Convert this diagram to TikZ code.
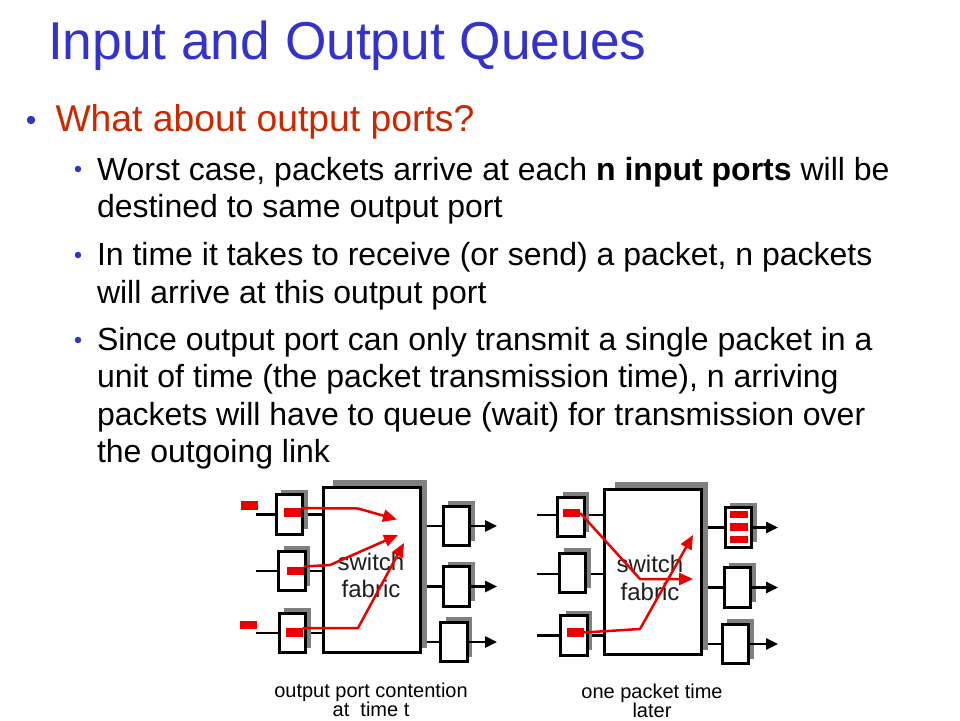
\documentclass[tikz,border=0pt]{standalone}
\usepackage{fontspec}
\setmainfont{Liberation Sans}
\usetikzlibrary{arrows.meta,shadows}
\definecolor{titleblue}{RGB}{51,51,204}
\definecolor{headred}{RGB}{204,40,0}
\definecolor{pktred}{RGB}{235,0,0}
\definecolor{shadowgray}{RGB}{128,128,128}
\definecolor{labelgray}{RGB}{30,30,30}
\begin{document}
\begin{tikzpicture}[x=1pt,y=-1pt,
  txt/.style={anchor=base west, inner sep=0, outer sep=0},
  ttl/.style={txt, text=titleblue, font=\fontsize{53.3}{64}\selectfont},
  lvlone/.style={txt, text=headred, font=\fontsize{37.3}{45}\selectfont},
  lvltwo/.style={txt, text=black, font=\fontsize{32}{38}\selectfont},
  dotone/.style={circle, fill=titleblue, inner sep=0, minimum size=8.5pt},
  dottwo/.style={circle, fill=titleblue, inner sep=0, minimum size=6.5pt},
  port/.style={draw, line width=3pt, fill=white, minimum width=26.5pt, minimum height=39.5pt, inner sep=0,
    drop shadow={shadow xshift=5pt, shadow yshift=5pt, opacity=1, fill=shadowgray, draw=none}},
  fabric/.style={draw, line width=3pt, fill=white, minimum width=97pt, minimum height=165pt, inner sep=0},
  fshadow/.style={fill=shadowgray, draw=none, inner sep=0, minimum height=168pt},
  pkt/.style={fill=pktred, draw=none, inner sep=0, minimum width=17pt, minimum height=8.5pt},
  qpkt/.style={fill=pktred, draw=none, inner sep=0, minimum width=18pt, minimum height=7.5pt},
  wire/.style={line width=2.5pt},
  redarr/.style={draw=pktred, line width=2.5pt, line join=round, -{Triangle[length=14pt,width=12pt]}},
  outarr/.style={line width=2.5pt, -{Triangle[length=12pt,width=11pt]}},
  flabel/.style={anchor=base, inner sep=0, text=labelgray, font=\fontsize{24}{28}\selectfont},
  capt/.style={anchor=base, inner sep=0, font=\fontsize{20}{22}\selectfont}
]
\useasboundingbox[fill=white] (0,0) rectangle (960,720);

% ---------- text ----------
\node[ttl] (title) at (48,59.3) {Input and Output Queues};
\node[dotone] (b1) at (31,120) {};
\node[lvlone] (h1) at (55.5,131.7) {What about output ports?};
\node[dottwo] (b2) at (78,169) {};
\node[lvltwo] (t1) at (97,180) {Worst case, packets arrive at each \textbf{n input ports} will be};
\node[lvltwo] (t2) at (97,217.7) {destined to same output port};
\node[dottwo] (b3) at (78,255) {};
\node[lvltwo] (t3) at (97,265.7) {In time it takes to receive (or send) a packet, n packets};
\node[lvltwo] (t4) at (97,303) {will arrive at this output port};
\node[dottwo] (b4) at (78,340) {};
\node[lvltwo] (t5) at (97,350) {Since output port can only transmit a single packet in a};
\node[lvltwo] (t6) at (97,387.7) {unit of time (the packet transmission time), n arriving};
\node[lvltwo] (t7) at (97,425) {packets will have to queue (wait) for transmission over};
\node[lvltwo] (t8) at (97,462) {the outgoing link};

% ---------- left diagram ----------
\node[fshadow, minimum width=94pt] (LFs) at (380,564) {};
\node[fabric] (LF) at (372,570) {};
\node[flabel] (LT1) at (371,570) {switch};
\node[flabel] (LT2) at (371,597) {fabric};

\coordinate (LW1) at (256,514.5);
\coordinate (LW2) at (256,571);
\coordinate (LW3) at (256,633);
\draw[wire] (LW1) -- (LW1 -| LF.west);
\draw[wire] (LW2) -- (LW2 -| LF.west);
\draw[wire] (LW3) -- (LW3 -| LF.west);
\node[port] (LI1) at (289.5,514.5) {};
\node[port] (LI2) at (292,571) {};
\node[port] (LI3) at (292.5,633) {};

\node[port] (LO1) at (456.5,526) {};
\node[port] (LO2) at (456.5,586.5) {};
\node[port] (LO3) at (454,642) {};
\draw[wire] (LFs.east |- LO1.west) -- (LO1.west);
\draw[wire] (LFs.east |- LO2.west) -- (LO2.west);
\draw[wire] (LFs.east |- LO3.west) -- (LO3.west);
\coordinate (LE1) at (497,526);
\coordinate (LE2) at (497,586.5);
\coordinate (LE3) at (497,642);
\draw[outarr] (LO1.east) -- (LE1);
\draw[outarr] (LO2.east) -- (LE2);
\draw[outarr] (LO3.east) -- (LE3);

\node[pkt] (LPo1) at (249,505.5) {};
\node[pkt] (LPo3) at (248,625) {};
\node[pkt] (LP1) at (292.5,512.5) {};
\node[pkt] (LP2) at (295,571) {};
\node[pkt] (LP3) at (294,632.5) {};

\coordinate (LA1m) at (358,508.5);
\coordinate (LA1t) at (397,519.5);
\coordinate (LA2m) at (330,565);
\coordinate (LA2t) at (398,535);
\coordinate (LA3m) at (358,628);
\coordinate (LA3t) at (404,543);
\draw[redarr] (LP1.north east) -- (LA1m) -- (LA1t);
\draw[redarr] (LP2.north east) -- (LA2m) -- (LA2t);
\draw[redarr] (LP3.north east) -- (LA3m) -- (LA3t);

\node[capt] (LC1) at (371,697) {output port contention};
\node[capt] (LC2) at (371,716) {at~ time t};

% ---------- right diagram ----------
\node[fshadow, minimum width=93pt] (RFs) at (661.5,566) {};
\node[fabric] (RF) at (653,572) {};
\node[flabel] (RT1) at (650,572) {switch};
\node[flabel] (RT2) at (650,600) {fabric};

\coordinate (RW1) at (537,515);
\coordinate (RW2) at (537,574);
\coordinate (RW3) at (537,635.5);
\draw[wire] (RW1) -- (RW1 -| RF.west);
\draw[wire] (RW2) -- (RW2 -| RF.west);
\draw[wire] (RW3) -- (RW3 -| RF.west);
\node[port] (RI1) at (571,517) {};
\node[port] (RI2) at (572.5,573) {};
\node[port] (RI3) at (574,635.5) {};

\node[port] (RO1) at (738.5,527.5) {};
\node[port] (RO2) at (737.5,587.5) {};
\node[port] (RO3) at (735.5,644) {};
\draw[wire] (RFs.east |- RO1.west) -- (RO1.west);
\draw[wire] (RFs.east |- RO2.west) -- (RO2.west);
\draw[wire] (RFs.east |- RO3.west) -- (RO3.west);
\coordinate (RE1) at (778,527.5);
\coordinate (RE2) at (778,587.5);
\coordinate (RE3) at (778,644);
\draw[outarr] (RO1.east) -- (RE1);
\draw[outarr] (RO2.east) -- (RE2);
\draw[outarr] (RO3.east) -- (RE3);

\node[pkt] (RP1) at (571.5,513) {};
\node[pkt] (RP3) at (575,632.5) {};
\node[qpkt] (RQ1) at (738.5,514.5) {};
\node[qpkt] (RQ2) at (738.5,527) {};
\node[qpkt] (RQ3) at (738.5,539.5) {};

\coordinate (RA1m) at (640,579);
\coordinate (RA1t) at (693,579);
\coordinate (RA2m) at (640,629);
\coordinate (RA2t) at (693,535);
\draw[redarr] (RP1.east) -- (RA1m) -- (RA1t);
\draw[redarr] (RP3.east) -- (RA2m) -- (RA2t);

\node[capt] (RC1) at (652,698) {one packet time};
\node[capt] (RC2) at (652,717) {later};
\end{tikzpicture}
\end{document}
